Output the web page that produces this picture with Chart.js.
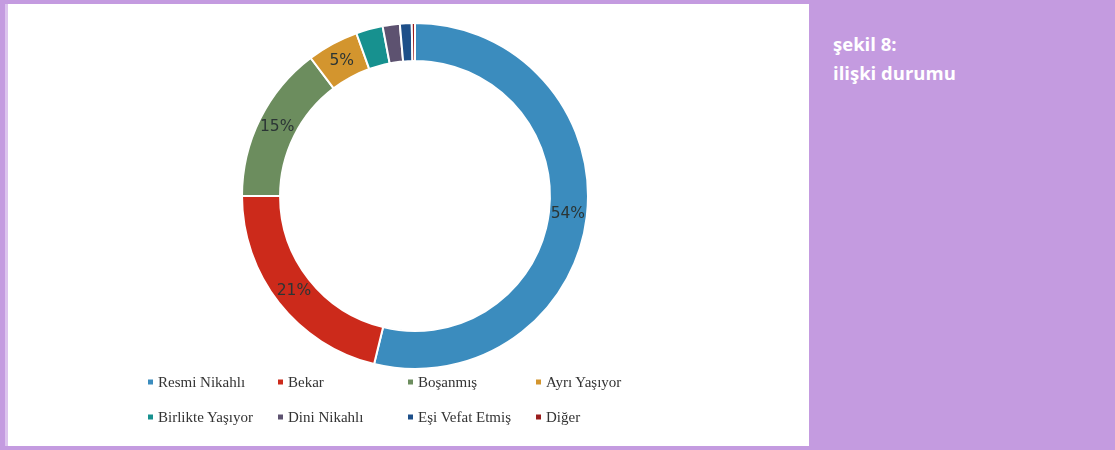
<!DOCTYPE html>
<html>
<head>
<meta charset="utf-8">
<script src="https://cdn.jsdelivr.net/npm/chart.js@4"></script>
<style>
  body { margin: 0; width: 1115px; height: 450px; background: #c49be0; position: relative; overflow: hidden; }
  .panel { position: absolute; left: 8px; top: 4px; width: 801px; height: 442px; background: #fff; }
  .edge { position: absolute; left: 5px; top: 4px; width: 3px; height: 442px; background: #dcc4ee; }
  #ring { position: absolute; left: 8px; top: 4px; }
  .title { position: absolute; left: 833px; top: 29px; color: #fff; font: 700 18.5px "Open Sans", sans-serif; line-height: 29px; }
  .legend { position: absolute; left: 0; top: 0; width: 810px; height: 450px; pointer-events: none; }
  .item { position: absolute; font: 15px "Liberation Serif", serif; color: #333; white-space: nowrap; transform: translateY(-50%); }
  .item i { display: inline-block; width: 5px; height: 5px; margin-right: 5px; vertical-align: middle; position: relative; top: -1px; }
</style>
</head>
<body>
<div class="edge"></div>
<div class="panel"></div>
<canvas id="ring" width="814" height="384"></canvas>
<div class="legend" id="legend"></div>
<div class="title">şekil 8:<br>ilişki durumu</div>
<script>
const labels = ['Resmi Nikahlı', 'Bekar', 'Boşanmış', 'Ayrı Yaşıyor', 'Birlikte Yaşıyor', 'Dini Nikahlı', 'Eşi Vefat Etmiş', 'Diğer'];
const shares = [53.8, 21.2, 14.7, 4.8, 2.5, 1.6, 1.1, 0.3];
const shownLabels = ['54%', '21%', '15%', '5%', '', '', '', ''];
const colors = ['#3b8cbe', '#cc2a1b', '#6c8d5e', '#d3952e', '#17918f', '#5d5270', '#1d4f89', '#9a1d1d'];

// percent text inside the bigger slices
const sliceText = {
  id: 'sliceText',
  afterDatasetsDraw(chart) {
    const ctx = chart.ctx;
    ctx.save();
    ctx.font = '15.5px "DejaVu Sans", sans-serif';
    ctx.fillStyle = '#2b3535';
    ctx.textAlign = 'center';
    ctx.textBaseline = 'middle';
    chart.getDatasetMeta(0).data.forEach((arc, i) => {
      if (!shownLabels[i]) return;
      const p = arc.tooltipPosition();
      ctx.fillText(shownLabels[i], p.x, p.y);
    });
    ctx.restore();
  }
};

new Chart(document.getElementById('ring'), {
  type: 'doughnut',
  data: {
    labels: labels,
    datasets: [{
      data: shares,
      backgroundColor: colors,
      borderColor: '#ffffff',
      borderWidth: 2
    }]
  },
  options: {
    responsive: false,
    animation: false,
    cutout: '78%',
    layout: { padding: 18 },
    plugins: {
      legend: { display: false },
      tooltip: { enabled: false }
    }
  },
  plugins: [sliceText]
});

// legend in a 4 x 2 grid, like the original
const colX = [148, 278, 408, 536];
const rowY = [382, 417];
const legend = document.getElementById('legend');
labels.forEach((name, i) => {
  const el = document.createElement('div');
  el.className = 'item';
  el.style.left = colX[i % 4] + 'px';
  el.style.top = rowY[Math.floor(i / 4)] + 'px';
  el.innerHTML = '<i style="background:' + colors[i] + '"></i>' + name;
  legend.appendChild(el);
});
</script>
</body>
</html>
